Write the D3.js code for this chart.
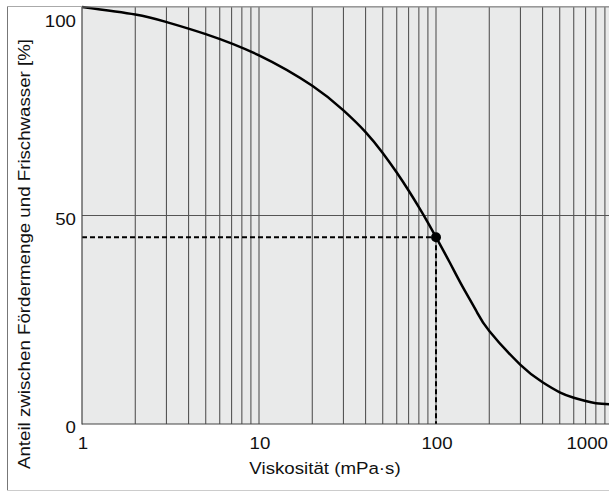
<!DOCTYPE html>
<html>
<head>
<meta charset="utf-8">
<script src="https://cdn.jsdelivr.net/npm/d3@7"></script>
<style>
  body { margin: 0; background: #fff; }
  svg { display: block; font-family: "Liberation Sans", Arial, sans-serif; }
</style>
</head>
<body>
<svg id="chart" width="609" height="492"></svg>
<script>
const W = 609;
const H = 492;
const LEFT = 82;
const TOP = 7;
const BOTTOM = 424;
const FONT = 17;
const STRETCH = 1.1;

// curve
const viscosity = [1, 2, 3, 5, 10, 20, 30, 40, 50, 60, 70, 80, 90, 100, 119, 141, 168, 200, 300, 400, 500, 600, 700, 800, 1000, 1300];
const share = [100, 98.2, 96.4, 93.5, 88.4, 81.1, 75.2, 70.0, 65.0, 60.3, 56.0, 52.0, 48.3, 44.8, 38.9, 33.0, 27.3, 22.3, 14.2, 10.0, 7.6, 6.3, 5.5, 5.0, 4.7, 4.6];

const marker = [100, 44.8];
const xTicks = [1, 10, 100, 1000];
const yTicks = [0, 50, 100];
const yGrid = [50];
const xGrid = [2, 3, 4, 5, 6, 7, 8, 9, 10, 20, 30, 40, 50, 60, 70, 80, 90, 100, 200, 300, 400, 500, 600, 700, 800, 900];

const svg = d3.select('#chart');

const x = d3.scaleLog().domain([1, 1000]).range([LEFT, 613]);
const y = d3.scaleLinear().domain([0, 100]).range([BOTTOM, TOP]);

// outer frame
svg.append('line').attr('x1', 7.5).attr('x2', 7.5).attr('y1', 6).attr('y2', 491).attr('stroke', '#777');
svg.append('line').attr('x1', 7).attr('x2', W).attr('y1', 6.5).attr('y2', 6.5).attr('stroke', '#aaa');
svg.append('line').attr('x1', 7).attr('x2', W).attr('y1', 490.5).attr('y2', 490.5).attr('stroke', '#ccc');

// plot background
svg.append('rect')
    .attr('x', LEFT)
    .attr('y', TOP)
    .attr('width', W - LEFT)
    .attr('height', BOTTOM - TOP)
    .attr('fill', '#e9eaea');

svg.append('clipPath').attr('id', 'clip')
    .append('rect')
    .attr('x', LEFT).attr('y', TOP - 3)
    .attr('width', W - LEFT).attr('height', BOTTOM - TOP + 6);

const plot = svg.append('g').attr('clip-path', 'url(#clip)');

plot.selectAll('.vgrid')
    .data(xGrid)
    .enter()
    .append('line')
    .attr('class', 'vgrid')
    .attr('x1', d => x(d))
    .attr('x2', d => x(d))
    .attr('y1', TOP)
    .attr('y2', BOTTOM)
    .attr('stroke', '#555')
    .attr('stroke-width', 1.1);

plot.selectAll('.hgrid')
    .data(yGrid)
    .enter()
    .append('line')
    .attr('class', 'hgrid')
    .attr('x1', LEFT)
    .attr('x2', W)
    .attr('y1', d => y(d))
    .attr('y2', d => y(d))
    .attr('stroke', '#555')
    .attr('stroke-width', 1.1);

// axis lines
svg.append('line').attr('x1', LEFT).attr('x2', LEFT).attr('y1', TOP).attr('y2', BOTTOM + 0.5).attr('stroke', '#444').attr('stroke-width', 1.2);
svg.append('line').attr('x1', LEFT).attr('x2', W).attr('y1', BOTTOM).attr('y2', BOTTOM).attr('stroke', '#444').attr('stroke-width', 1.2);
svg.append('line').attr('x1', LEFT).attr('x2', W).attr('y1', TOP).attr('y2', TOP).attr('stroke', '#888').attr('stroke-width', 1);

// dashed guides to the marked point
plot.append('line')
    .attr('x1', LEFT).attr('x2', x(marker[0]))
    .attr('y1', y(marker[1])).attr('y2', y(marker[1]))
    .attr('stroke', '#000').attr('stroke-width', 2)
    .attr('stroke-dasharray', '5,3');

plot.append('line')
    .attr('x1', x(marker[0])).attr('x2', x(marker[0]))
    .attr('y1', y(marker[1])).attr('y2', BOTTOM)
    .attr('stroke', '#000').attr('stroke-width', 2)
    .attr('stroke-dasharray', '5,3');

const line = d3.line()
    .x((d, i) => x(viscosity[i]))
    .y(d => y(d))
    .curve(d3.curveNatural);

plot.append('path')
    .datum(share)
    .attr('d', line)
    .attr('fill', 'none')
    .attr('stroke', '#000')
    .attr('stroke-width', 2.5);

plot.append('circle')
    .attr('cx', x(marker[0]))
    .attr('cy', y(marker[1]))
    .attr('r', 5)
    .attr('fill', '#000');

// text is a bit wider than its height suggests, so stretch it a little
function label(tx, ty, rot, anchor, str) {
    svg.append('text')
        .attr('transform', 'translate(' + tx + ',' + ty + ') rotate(' + rot + ') scale(' + STRETCH + ',1)')
        .attr('dominant-baseline', 'central')
        .attr('text-anchor', anchor)
        .attr('font-size', FONT)
        .attr('fill', '#111')
        .text(str);
}

yTicks.forEach(d => label(76, Math.max(y(d) + 3.5, 21), 0, 'end', d));
xTicks.forEach(d => {
    if (d === 1000) label(W - 1, 443, 0, 'end', d);
    else label(x(d) + 1, 443, 0, 'middle', d);
});

label(325, 468, 0, 'middle', 'Viskosität (mPa·s)');
label(24, 254, -90, 'middle', 'Anteil zwischen Fördermenge und Frischwasser [%]');
</script>
</body>
</html>
